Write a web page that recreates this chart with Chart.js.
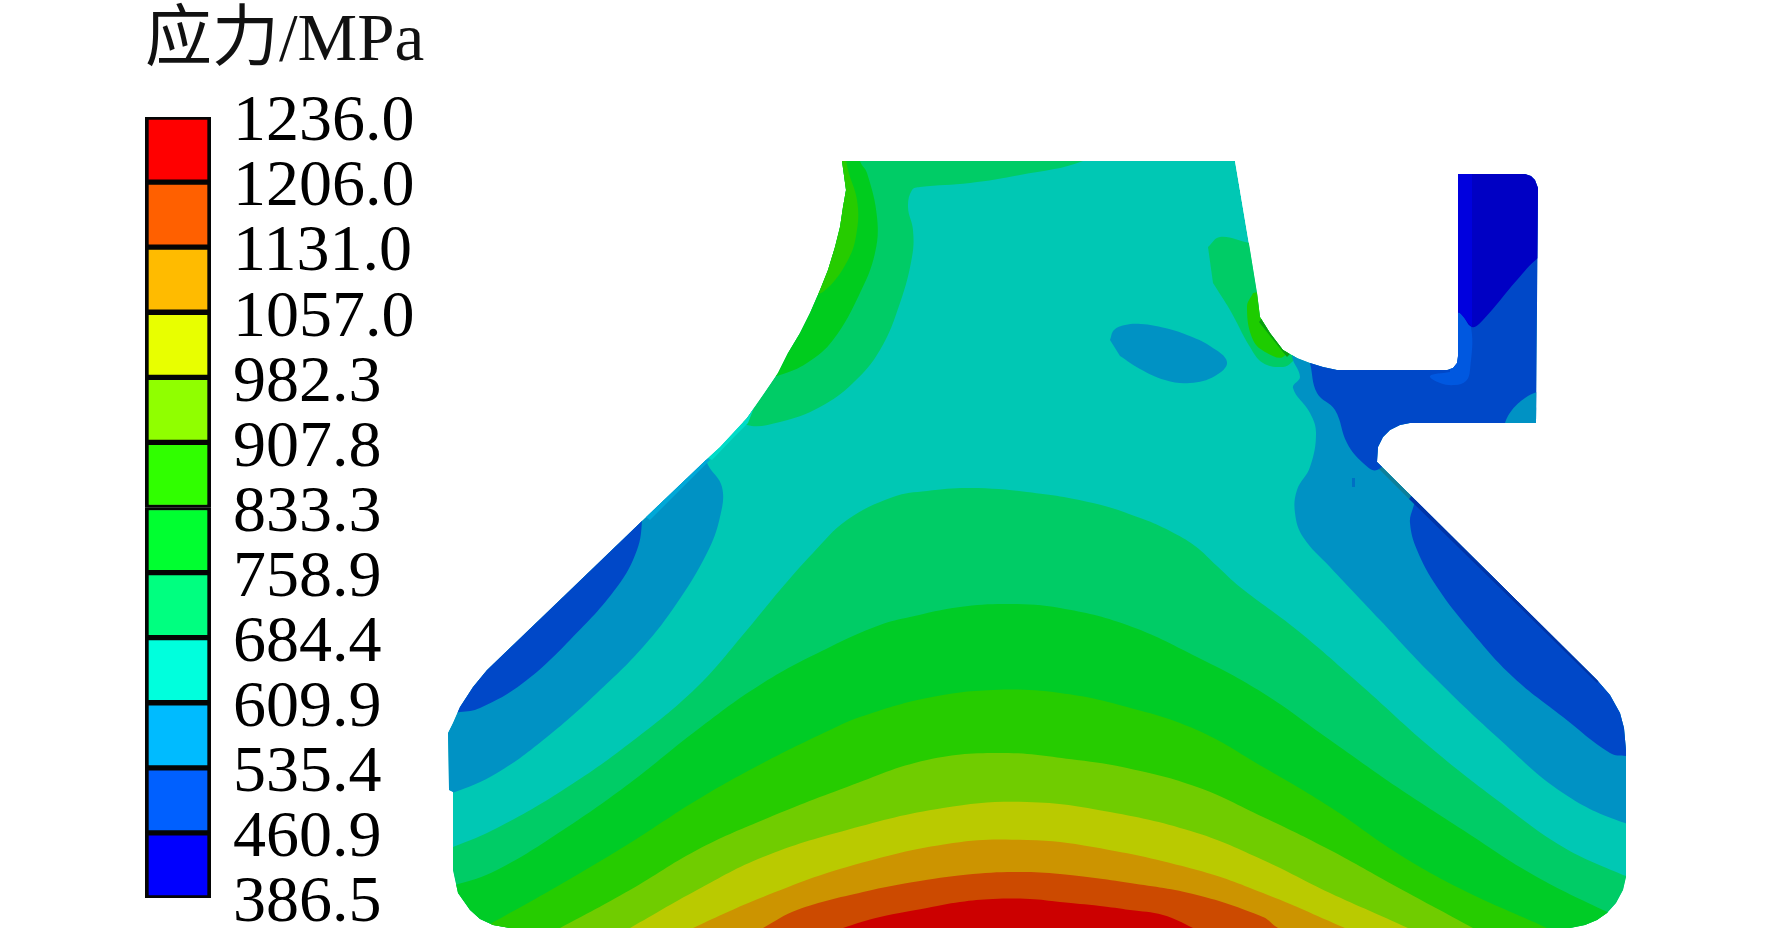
<!DOCTYPE html>
<html>
<head>
<meta charset="utf-8">
<title>应力/MPa</title>
<script src="https://cdn.jsdelivr.net/npm/chart.js@4"></script>
<style>
  html, body { margin: 0; padding: 0; background: #fff; overflow: hidden; }
  canvas { position: absolute; top: 0; }
  #scale-chart { left: 0; }
  #stress-chart { left: 440px; }
</style>
</head>
<body>
<canvas id="scale-chart" width="440" height="940"></canvas>
<canvas id="stress-chart" width="1332" height="940"></canvas>
<script>
// Colour scale, top to bottom
const stressLabels = ['1236.0', '1206.0', '1131.0', '1057.0', '982.3', '907.8', '833.3', '758.9', '684.4', '609.9', '535.4', '460.9', '386.5'];
const scaleColors = ['#ff0000', '#ff6000', '#ffbb00', '#e8ff00', '#90ff00', '#30ff00', '#00ff30', '#00ff80', '#00ffdd', '#00bbff', '#0060ff', '#0000ff'];
const scaleTitle = '应力/MPa';

// Part outline
const partOutline = [[842,161],[1235,161],[1250,250],[1257,293],[1260,317],[1270,333],[1283,350],[1297,358],[1310,363],[1323,367],[1337,370],[1447,370],[1453,368],[1457,363],[1458,356],[1458,174],[1525,174],[1531,176],[1535,180],[1538,188],[1536,423],[1410,423],[1400,425],[1390,430],[1383,437],[1378,447],[1377,462],[1597,680],[1610,695],[1620,713],[1624,728],[1626,750],[1626,877],[1623,890],[1616,903],[1607,913],[1597,920],[1585,925],[1570,928],[510,928],[493,925],[480,919],[470,910],[458,893],[453,870],[453,792],[449,790],[448,733],[453,723],[460,707],[473,687],[487,670],[563,597],[643,520],[708,458],[720,447],[733,433],[747,418],[763,395],[778,373],[788,353],[800,333],[810,313],[820,290],[828,270],[835,247],[840,227],[843,207],[846,190]];

// Lower bands, outermost first
const band684 = [[440,850],[453,847],[497,828],[563,790],[630,743],[697,687],[747,630],[780,590],[813,553],[847,520],[893,497],[927,491],[970,488],[1027,492],[1093,503],[1143,519],[1170,531],[1195,546],[1217,566],[1240,587],[1297,630],[1363,687],[1430,747],[1497,800],[1563,847],[1623,875],[1650,885],[1650,935],[440,935]];
const band758 = [[440,886],[455,885],[497,870],[563,830],[630,783],[697,730],[763,683],[830,647],[880,625],[910,617],[960,607],[1010,604],[1060,608],[1127,625],[1197,657],[1263,693],[1330,740],[1397,787],[1463,830],[1530,873],[1603,910],[1640,925],[1640,935],[440,935]];
const band833 = [[470,935],[492,923],[563,883],[630,843],[697,800],[763,763],[830,730],[860,717],[927,698],[993,690],[1060,693],[1127,707],[1197,730],[1263,767],[1330,807],[1397,853],[1463,890],[1547,928],[1560,935]];
const band907 = [[545,935],[560,928],[630,890],[697,850],[763,820],[847,787],[927,760],[1003,753],[1077,760],[1127,768],[1197,787],[1263,817],[1330,850],[1397,887],[1473,928],[1485,935]];
const band982 = [[617,935],[630,928],[697,890],[763,857],[847,830],[943,808],[1027,802],[1110,812],[1197,833],[1263,860],[1330,893],[1408,928],[1420,935]];
const band1057 = [[680,935],[693,928],[763,897],[847,867],[953,843],[1027,840],[1093,847],[1197,870],[1263,893],[1345,928],[1360,935]];
const band1131 = [[750,935],[763,928],[797,910],[863,892],[920,881],[973,874],[1020,872],[1060,874],[1130,883],[1197,895],[1263,917],[1278,928],[1295,935]];
const band1206 = [[825,935],[843,928],[880,917],[927,908],[960,902],[993,899],[1030,899],[1060,902],[1100,906],[1130,910],[1163,915],[1193,928],[1205,935]];

// Upper left neck
const neck684 = [[1083,150],[1083,161],[1020,175],[970,183],[920,187],[912,190],[908,207],[913,230],[912,257],[900,303],[880,350],[853,383],[820,407],[780,422],[747,425],[740,410],[800,250],[830,150]];
const neck758 = [[860,150],[860,161],[867,173],[877,217],[875,253],[860,293],[833,340],[807,363],[780,375],[770,375],[820,250],[830,150]];
const neck833 = [[845,150],[848,170],[857,200],[857,230],[848,260],[823,292],[810,290],[830,150]];
const neckEdge = [[705,456],[733,428],[748,410],[755,405],[748,423],[735,436],[712,460]];
const shoulderEdge = [[643,515],[705,456],[710,460],[650,520]];

// Fillet under the neck
const fillet684 = [[1208,247],[1220,237],[1250,243],[1275,245],[1300,352],[1292,362],[1283,367],[1263,363],[1250,347],[1230,310],[1213,283]];
const fillet758 = [[1253,293],[1247,307],[1253,340],[1267,353],[1283,357],[1290,340],[1270,290]];
const filletEdge = [[1262,318],[1290,354],[1287,357],[1259,322]];

// Low stress zones
const leftBlue = [[440,793],[452,793],[497,773],[547,737],[597,693],[643,647],[677,603],[707,553],[720,517],[722,487],[708,465],[700,445],[440,690]];
const leftDeep = [[640,505],[642,520],[637,550],[617,587],[570,640],[523,683],[480,708],[460,712],[440,712],[440,680]];
const holeBlue = [[1110,340],[1114,330],[1125,325],[1141,324],[1165,328],[1187,335],[1210,346],[1227,362],[1215,376],[1190,383],[1165,380],[1140,369],[1120,356]];
const rightBlue = [[1300,340],[1292,355],[1300,377],[1293,388],[1310,413],[1316,433],[1310,467],[1297,490],[1295,513],[1303,537],[1330,567],[1380,620],[1430,673],[1497,737],[1563,793],[1625,823],[1650,823],[1650,440]];
const rightDeep = [[1420,490],[1413,508],[1410,523],[1417,550],[1437,587],[1470,630],[1513,677],[1563,717],[1610,753],[1626,756],[1650,756],[1650,700]];
const rightEdge = [[1412,495],[1600,680],[1597,683],[1409,499]];
const notchEdge = [[1377,460],[1412,495],[1409,499],[1375,465]];
const hookDeep = [[1305,345],[1310,363],[1317,393],[1335,410],[1347,443],[1363,463],[1377,470],[1400,450],[1545,440],[1545,165],[1450,165]];
const hookStrip = [[1450,310],[1460,313],[1471,327],[1470,370],[1466,381],[1455,385],[1440,383],[1430,376],[1450,372]];
const hookNavy = [[1450,165],[1450,313],[1460,313],[1472,327],[1483,320],[1517,280],[1538,258],[1545,258],[1545,165]];
const hookTopStrip = [[1450,165],[1472,165],[1472,327],[1460,313],[1450,310]];
const hookCorner = [[1505,430],[1505,423],[1512,410],[1525,398],[1537,392],[1545,392],[1545,430]];
const speck = [[1352,478],[1355,478],[1355,487],[1352,487]];

const bodyColor = '#00c8b4';

function band(points, color, tension = 0.4) {
  return {
    data: points.map(p => ({x: p[0], y: p[1]})),
    showLine: true,
    fill: 'shape',
    backgroundColor: color,
    borderWidth: 0,
    pointRadius: 0,
    tension: tension
  };
}

// keep the contour fills inside the part
const clipToPart = {
  id: 'clipToPart',
  beforeDatasetsDraw(chart) {
    const {ctx, scales} = chart;
    ctx.save();
    ctx.beginPath();
    partOutline.forEach((p, i) => {
      const px = scales.x.getPixelForValue(p[0]);
      const py = scales.y.getPixelForValue(p[1]);
      if (i === 0) ctx.moveTo(px, py); else ctx.lineTo(px, py);
    });
    ctx.closePath();
    ctx.clip();
  },
  afterDatasetsDraw(chart) {
    chart.ctx.restore();
  }
};

// painted back to front, chart.js draws the first dataset last
const paintOrder = [
  band(partOutline, bodyColor, 0),
  band(band684, '#00cc66'),
  band(band758, '#00cc26'),
  band(band833, '#26cc00'),
  band(band907, '#70cc00'),
  band(band982, '#baca00'),
  band(band1057, '#cc9400'),
  band(band1131, '#cc4a00'),
  band(band1206, '#cc0000'),
  band(neck684, '#00cc66'),
  band(neck758, '#00cc1e'),
  band(neck833, '#26cc00'),
  band(neckEdge, '#00dcc8', 0),
  band(fillet684, '#00cc66'),
  band(fillet758, '#1ecc00'),
  band(filletEdge, '#0a9e10', 0),
  band(leftBlue, '#0092c4'),
  band(leftDeep, '#0048c8'),
  band(shoulderEdge, '#00a8d8', 0),
  band(holeBlue, '#0092c4'),
  band(rightBlue, '#0092c4'),
  band(rightDeep, '#0048c8'),
  band(notchEdge, '#0e7f9a', 0),
  band(rightEdge, '#0034a8', 0),
  band(hookDeep, '#0048c8'),
  band(hookStrip, '#0058e0'),
  band(hookNavy, '#0000c4'),
  band(hookTopStrip, '#0000de', 0),
  band(hookCorner, '#0092c4'),
  band(speck, '#0070c4', 0)
];

new Chart(document.getElementById('stress-chart'), {
  type: 'scatter',
  data: { datasets: paintOrder.reverse() },
  options: {
    responsive: false,
    animation: false,
    layout: { padding: 0 },
    plugins: { legend: { display: false }, tooltip: { enabled: false } },
    scales: {
      x: { type: 'linear', min: 440, max: 1772, display: false },
      y: { type: 'linear', min: 0, max: 940, reverse: true, display: false }
    }
  },
  plugins: [clipToPart]
});

// colour scale as one stacked bar, bottom segment first
const scaleSets = scaleColors.slice().reverse().map(color => ({
  data: [1],
  backgroundColor: color,
  borderColor: '#050505',
  borderWidth: { left: 4, right: 4, top: 3, bottom: 3 },
  borderSkipped: false,
  barPercentage: 1,
  categoryPercentage: 1
}));

const serif = "'Liberation Serif', 'Noto Sans CJK SC', serif";

new Chart(document.getElementById('scale-chart'), {
  type: 'bar',
  data: { labels: ['stress'], datasets: scaleSets },
  options: {
    responsive: false,
    animation: false,
    layout: { padding: { left: 145, top: 0, right: 0, bottom: 42 } },
    plugins: {
      legend: { display: false },
      tooltip: { enabled: false },
      title: {
        display: true,
        text: scaleTitle,
        align: 'start',
        color: '#111',
        font: { family: serif, size: 67, weight: 'normal', lineHeight: 1 },
        padding: { top: 9, bottom: 41 }
      }
    },
    scales: {
      x: { stacked: true, display: false },
      y: {
        stacked: true,
        position: 'right',
        min: 0,
        max: 12,
        grid: { display: false, drawTicks: false },
        border: { display: false },
        afterFit(scale) {
          scale.width = 229;
          scale.paddingTop = 0;
          scale.paddingBottom = 0;
        },
        ticks: {
          stepSize: 1,
          autoSkip: false,
          padding: 22,
          labelOffset: 6,
          color: '#000',
          font: { family: serif, size: 66 },
          callback: v => stressLabels[12 - v]
        }
      }
    }
  }
});
</script>
</body>
</html>
